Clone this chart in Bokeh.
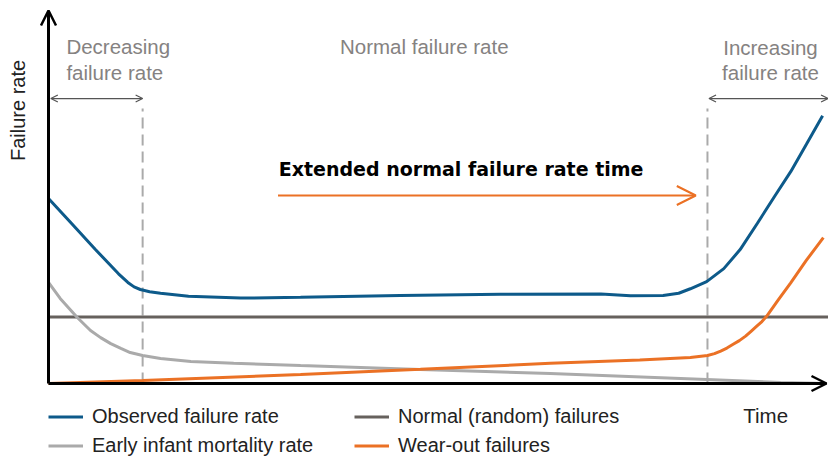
import math
from bokeh.plotting import figure
from bokeh.models import Range1d, Arrow, OpenHead, Label, Legend, LegendItem
from bokeh.embed import file_html
from bokeh.resources import INLINE

# ---- data (time 0..100, failure rate 0..100, conceptual units) ----
obs_t = [0, 3.0, 6.0, 9.0, 10.2, 11.0, 11.8, 13.0, 14.4, 18.0, 24.7, 32.4, 45.2, 58.1, 71.0, 74.8,
         79.0, 81.0, 82.5, 84.6, 86.8, 88.9, 91.1, 93.4, 95.4, 97.4, 99.5]
obs_y = [49.6, 42.8, 36.0, 29.4, 27.1, 25.9, 25.2, 24.6, 24.2, 23.4, 22.9, 23.1, 23.6, 23.9, 24.0, 23.5,
         23.6, 24.2, 25.4, 27.3, 30.8, 35.9, 42.9, 50.4, 56.8, 64.1, 71.8]

inf_t = [0, 1.5, 3.7, 5.4, 6.7, 8.0, 9.3, 10.5, 12.1, 14.4, 18.3, 23.8, 32.4, 47.8, 64.5, 84.6, 94.1, 100]
inf_y = [27.1, 22.8, 17.7, 14.2, 12.3, 10.7, 9.4, 8.3, 7.5, 6.7, 5.9, 5.4, 4.8, 3.75, 2.7, 1.1, 0.3, 0]

norm_t = [0, 100.3]
norm_y = [17.8, 17.8]

wear_t = [0, 12.1, 32.4, 47.8, 64.5, 76.0, 82.5, 84.7, 85.6, 86.4, 87.2, 88.0, 88.8, 89.6, 90.3,
          91.0, 91.7, 92.3, 93.8, 95.4, 97.4, 99.6]
wear_y = [0, 0.8, 2.4, 3.8, 5.4, 6.3, 7.0, 7.5, 8.0, 8.7, 9.5, 10.5, 11.5, 12.7, 14.0,
          15.3, 16.6, 18.0, 22.4, 27.0, 33.0, 39.1]

phase_bounds = [12.1, 84.7]

BLUE = "#0d5a8a"
GRAY = "#aaaaaa"
DARK = "#66615d"
ORANGE = "#eb7125"
TEXTGRAY = "#858281"
FONT = "Liberation Sans"

# px per unit: x 7.78, y 3.73 ; t=0 at px 48, y=0 at py 383 ; frame = whole canvas
p = figure(width=828, height=457, output_backend="svg", toolbar_location=None,
           x_range=Range1d(-48 / 7.78, 100 + 2 / 7.78), y_range=Range1d(-74 / 3.73, 383 / 3.73),
           x_axis_location=None, y_axis_location=None,
           min_border_left=0, min_border_right=0, min_border_top=0, min_border_bottom=0)
p.grid.visible = False
p.outline_line_color = None
p.background_fill_color = "white"
p.border_fill_color = "white"

# dashed phase boundaries
for b in phase_bounds:
    p.line([b, b], [0, 73.7], line_color=GRAY, line_width=2, line_dash="11 6")

r_norm = p.line(norm_t, norm_y, line_color=DARK, line_width=3)
r_inf = p.line(inf_t, inf_y, line_color=GRAY, line_width=3)
r_wear = p.line(wear_t, wear_y, line_color=ORANGE, line_width=3)
r_obs = p.line(obs_t, obs_y, line_color=BLUE, line_width=3)

# axes with arrows
p.add_layout(Arrow(x_start=0, y_start=0, x_end=0, y_end=100, line_color="black", line_width=3,
                   end=OpenHead(size=15, line_width=2.5, line_color="black")))
p.add_layout(Arrow(x_start=0, y_start=0, x_end=100, y_end=0, line_color="black", line_width=3,
                   end=OpenHead(size=15, line_width=2.5, line_color="black")))

# phase double arrows
for xs, xe in [(0.3, phase_bounds[0]), (phase_bounds[1] + 0.2, 100.2)]:
    p.add_layout(Arrow(x_start=xs, y_start=76.4, x_end=xe, y_end=76.4, line_color="#555555", line_width=1.3,
                       start=OpenHead(size=7, line_width=1.3, line_color="#555555"),
                       end=OpenHead(size=7, line_width=1.3, line_color="#555555")))

# extended arrow
p.add_layout(Arrow(x_start=29.5, y_start=50.4, x_end=83.2, y_end=50.4, line_color=ORANGE, line_width=2,
                   end=OpenHead(size=19, line_width=2, line_color=ORANGE)))


def lab(x, y, t, color=TEXTGRAY, size="20.5px", align="left", style="normal", angle=0.0,
        font=FONT, baseline="alphabetic"):
    p.add_layout(Label(x=x, y=y, text=t, text_color=color, text_font=font, text_font_size=size,
                       text_align=align, text_baseline=baseline, text_font_style=style, angle=angle))


lab(2.3, 90.3, "Decreasing")
lab(2.3, 83.3, "failure rate")
lab(48.3, 90.3, "Normal failure rate", align="center")
lab(92.8, 90.1, "Increasing", align="center")
lab(92.8, 83.3, "failure rate", align="center")
lab(29.6, 57.5, "Extended normal failure rate time", color="black", size="19px", style="bold",
    font="DejaVu Sans")
lab(-3.9, 73.2, "Failure rate", color="#222222", size="20px", align="center", angle=math.pi / 2,
    baseline="middle")
lab(89.3, -8.6, "Time", color="#222222", size="20.5px")

common = dict(orientation="vertical", glyph_width=35, glyph_height=21, label_height=21, spacing=6,
              padding=0, margin=0, border_line_color=None, background_fill_alpha=0,
              label_text_font_size="20px", label_text_font=FONT, label_text_color="#222222",
              label_standoff=9)
leg1 = Legend(items=[LegendItem(label="Observed failure rate", renderers=[r_obs]),
                     LegendItem(label="Early infant mortality rate", renderers=[r_inf])],
              location=(48, 0), **common)
leg2 = Legend(items=[LegendItem(label="Normal (random) failures", renderers=[r_norm]),
                     LegendItem(label="Wear-out failures", renderers=[r_wear])],
              location=(354, 0), **common)
p.add_layout(leg1)
p.add_layout(leg2)

open("out.html", "w").write(file_html(p, INLINE))
